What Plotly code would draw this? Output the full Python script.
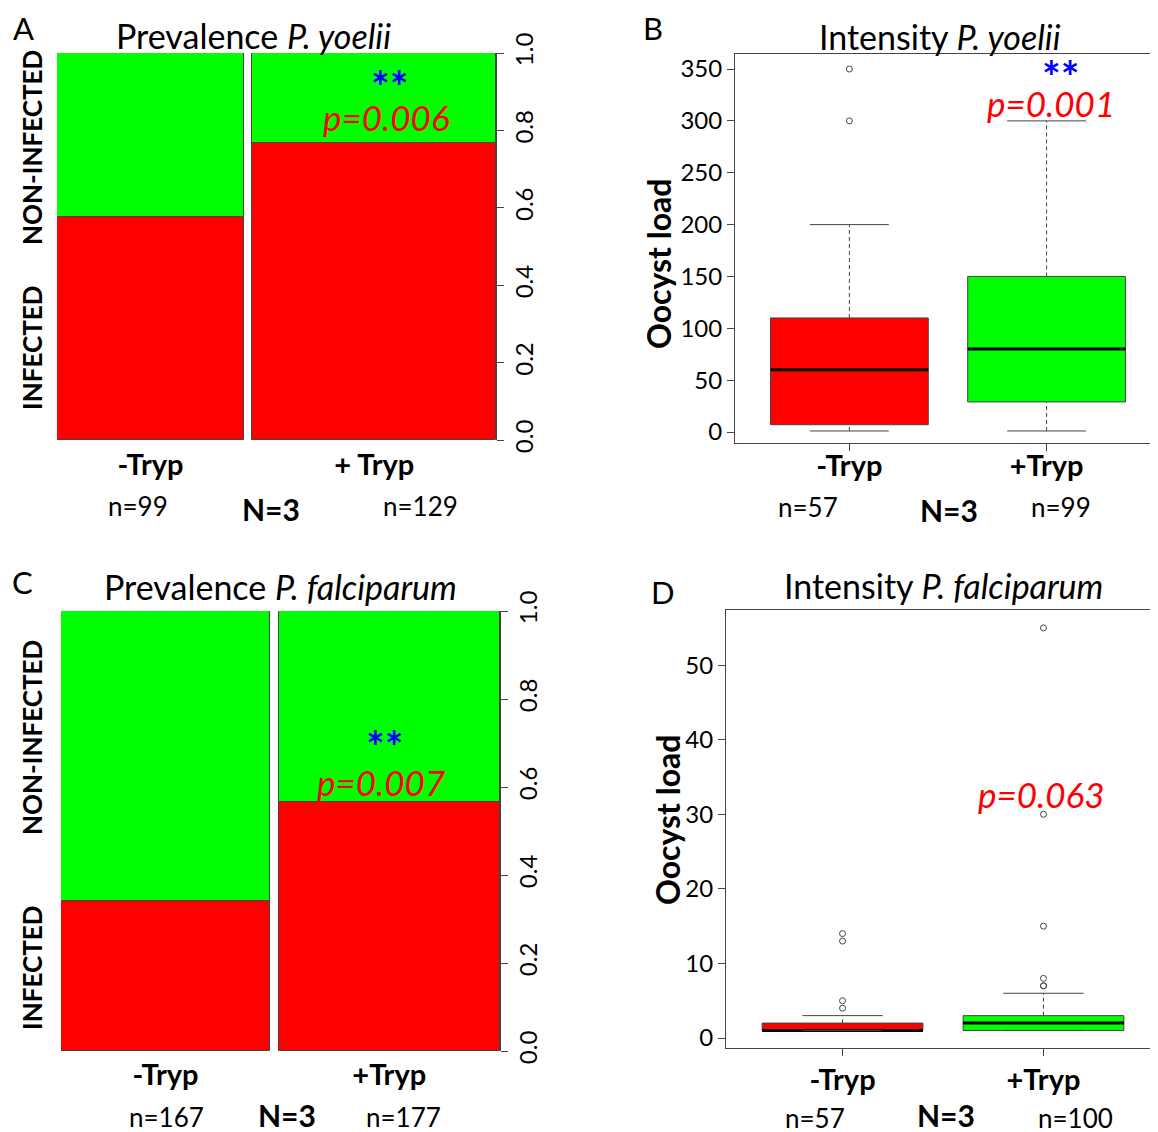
import plotly.graph_objects as go

# the page keeps an 8px body margin, so the figure is drawn 8px in
OFF = 8
W, H = 1158 - OFF, 1132
FONT = "Lato"
RED, GREEN = "#FF0000", "#00FF00"
EDGE = "#444444"

# ---- prevalence (spine plots) ----
prev_labels_a = ["-Tryp", "+ Tryp"]
prev_labels_c = ["-Tryp", "+Tryp"]
yoelii_n = [99, 129]
yoelii_infected = [57, 99]
falc_n = [167, 177]
falc_infected = [57, 100]

# ---- intensity (box plots) ----
box_labels = ["-Tryp", "+Tryp"]
yoelii_lo = [1, 1]
yoelii_q1 = [7, 29]
yoelii_med = [60, 80]
yoelii_q3 = [110, 150]
yoelii_hi = [200, 300]
yoelii_out = [[300, 350], []]
yoelii_count = [57, 99]

falc_lo = [1, 1]
falc_q1 = [1, 1]
falc_med = [1, 2]
falc_q3 = [2, 3]
falc_hi = [3, 6]
falc_out = [[4, 5, 13, 14], [7, 7, 8, 15, 30, 55]]
falc_count = [57, 100]


def px_x(a, b):
    return [(a - OFF) / W, (b - OFF) / W]


def px_y(top, bottom):
    return [1 - (bottom - OFF) / H, 1 - (top - OFF) / H]


fig = go.Figure()


def spine(n, infected, xa, ya, off=0.02):
    total = sum(n)
    widths = [v / total for v in n]
    lefts = [0, widths[0] + off]
    centers = [l + w / 2 for l, w in zip(lefts, widths)]
    frac = [i / v for i, v in zip(infected, n)]
    fig.add_trace(go.Bar(
        x=centers, y=frac, base=[0, 0], width=widths, xaxis=xa, yaxis=ya,
        marker={"color": RED, "line": {"color": EDGE, "width": 1}},
        showlegend=False, hoverinfo="skip",
    ))
    fig.add_trace(go.Bar(
        x=centers, y=[1 - f for f in frac], base=frac, width=widths,
        xaxis=xa, yaxis=ya,
        marker={"color": GREEN, "line": {"color": EDGE, "width": 1}},
        showlegend=False, hoverinfo="skip",
    ))
    return centers, frac, 1 + off


def boxes(lo, q1, med, q3, hi, out, xa, ya):
    colors = [RED, GREEN]
    for i in range(2):
        x = i + 1
        fig.add_trace(go.Box(
            x=[x], q1=[q1[i]], median=[med[i]], q3=[q3[i]],
            lowerfence=[q1[i]], upperfence=[q3[i]], width=0.8,
            whiskerwidth=0, fillcolor=colors[i],
            line={"color": EDGE, "width": 1}, xaxis=xa, yaxis=ya,
            showlegend=False, hoverinfo="skip", boxpoints=False,
        ))
        # median, whiskers (dashed) and staples like base R
        fig.add_trace(go.Scatter(
            x=[x - 0.4, x + 0.4], y=[med[i], med[i]], mode="lines",
            line={"color": "black", "width": 3}, xaxis=xa, yaxis=ya,
            showlegend=False, hoverinfo="skip",
        ))
        for a, b in ((q3[i], hi[i]), (lo[i], q1[i])):
            fig.add_trace(go.Scatter(
                x=[x, x], y=[a, b], mode="lines",
                line={"color": EDGE, "width": 1, "dash": "4px,3px"},
                xaxis=xa, yaxis=ya, showlegend=False, hoverinfo="skip",
            ))
        for v in (lo[i], hi[i]):
            fig.add_trace(go.Scatter(
                x=[x - 0.2, x + 0.2], y=[v, v], mode="lines",
                line={"color": EDGE, "width": 1}, xaxis=xa, yaxis=ya,
                showlegend=False, hoverinfo="skip",
            ))
        if out[i]:
            fig.add_trace(go.Scatter(
                x=[x] * len(out[i]), y=out[i], mode="markers",
                marker={"symbol": "circle-open", "size": 6, "color": EDGE,
                        "line": {"width": 1}},
                xaxis=xa, yaxis=ya, showlegend=False, hoverinfo="skip",
            ))


ca, fa, xmax_a = spine(yoelii_n, yoelii_infected, "x", "y")
cc, fc, xmax_c = spine(falc_n, falc_infected, "x3", "y3")
boxes(yoelii_lo, yoelii_q1, yoelii_med, yoelii_q3, yoelii_hi, yoelii_out, "x2", "y2")
boxes(falc_lo, falc_q1, falc_med, falc_q3, falc_hi, falc_out, "x4", "y4")

tickfont = {"family": FONT, "size": 24, "color": "black"}
catfont = {"family": FONT, "size": 29, "color": "black"}


def spine_axes(centers, xmax, labels, xdom, ydom, ya_name, xa_name, standoff):
    xa = dict(
        domain=xdom, range=[0, xmax], anchor=ya_name, tickvals=centers,
        ticktext=["<b>%s</b>" % s for s in labels], ticks="",
        showgrid=False, zeroline=False, showline=False, automargin=False,
        tickfont=catfont, ticklabelstandoff=standoff,
    )
    ya = dict(
        domain=ydom, range=[0, 1], anchor=xa_name, side="right",
        tickvals=[0, 0.2, 0.4, 0.6, 0.8, 1.0],
        ticktext=["0.0", "0.2", "0.4", "0.6", "0.8", "1.0"],
        tickangle=-90, ticks="outside", ticklen=7, tickcolor=EDGE,
        showline=True, linecolor=EDGE, linewidth=1, automargin=False,
        showgrid=False, zeroline=False, tickfont=tickfont,
    )
    return xa, ya


def box_axes(xdom, ydom, yrange, tickvals, ya_name, xa_name, xrange, standoff):
    xa = dict(
        domain=xdom, range=xrange, anchor=ya_name, tickvals=[1, 2],
        ticktext=["<b>%s</b>" % s for s in box_labels], ticks="outside",
        ticklen=7, tickcolor=EDGE, showline=True, mirror=True,
        linecolor=EDGE, linewidth=1, showgrid=False, zeroline=False,
        tickfont=catfont, ticklabelstandoff=standoff, automargin=False,
    )
    ya = dict(
        domain=ydom, range=yrange, anchor=xa_name, tickvals=tickvals,
        ticks="outside", ticklen=7, tickcolor=EDGE, showline=True,
        linecolor=EDGE, linewidth=1, showgrid=False, zeroline=False,
        tickfont={"family": FONT, "size": 24, "color": "black"},
        automargin=False,
    )
    return xa, ya


xa1, ya1 = spine_axes(ca, xmax_a, prev_labels_a, px_x(57, 496), px_y(53, 440),
                      "y", "x", 5)
xa3, ya3 = spine_axes(cc, xmax_c, prev_labels_c, px_x(61, 500), px_y(611, 1051),
                      "y3", "x3", 4)
xa2, ya2 = box_axes(px_x(735, 1158), px_y(54, 443), [-10.6, 364.5],
                    list(range(0, 351, 50)), "y2", "x2", [0.42, 2.565], -10)
xa4, ya4 = box_axes(px_x(726, 1158), px_y(610, 1048), [-1.34, 57.4],
                    list(range(0, 51, 10)), "y4", "x4", [0.42, 2.57], -1)

ann = []


def text(x, y, s, size=24, color="black", angle=0, bold=False, italic=False):
    if bold:
        s = "<b>%s</b>" % s
    if italic:
        s = "<i>%s</i>" % s
    ann.append(dict(
        x=(x - OFF) / W, y=1 - (y - OFF) / H, xref="paper", yref="paper",
        text=s, showarrow=False, textangle=angle, xanchor="center",
        yanchor="middle",
        font={"family": FONT, "size": size, "color": color},
    ))


# panel A
text(23, 28, "A", 31)
text(253, 36, "Prevalence <i>P. yoelii</i>", 34)
text(32, 148, "NON-INFECTED", 26, angle=-90, bold=True)
text(32, 348, "INFECTED", 26, angle=-90, bold=True)
text(138, 506, "n=%d" % yoelii_n[0], 26)
text(271, 509, "N=3", 30, bold=True)
text(420, 506, "n=%d" % yoelii_n[1], 26)
text(389, 86, "**", 44, color="#0000FF", bold=True)
text(386, 117, "p=0.006", 35, color=RED, italic=True)

# panel B
text(653, 28, "B", 31)
text(940, 37, "Intensity <i>P. yoelii</i>", 34)
text(658, 264, "Oocyst load", 32, angle=-90, bold=True)
text(808, 507, "n=%d" % yoelii_count[0], 26)
text(949, 510, "N=3", 30, bold=True)
text(1061, 507, "n=%d" % yoelii_count[1], 26)
text(1060, 76, "**", 44, color="#0000FF", bold=True)
text(1051, 103, "p=0.001", 35, color=RED, italic=True)

# panel C
text(22, 582, "C", 31)
text(280, 586, "Prevalence <i>P. falciparum</i>", 34)
text(32, 738, "NON-INFECTED", 26, angle=-90, bold=True)
text(32, 968, "INFECTED", 26, angle=-90, bold=True)
text(166, 1117, "n=%d" % falc_n[0], 26)
text(287, 1115, "N=3", 30, bold=True)
text(403, 1117, "n=%d" % falc_n[1], 26)
text(385, 746, "**", 44, color="#0000FF", bold=True)
text(381, 782, "p=0.007", 35, color=RED, italic=True)

# panel D
text(663, 592, "D", 31)
text(943, 585, "Intensity <i>P. falciparum</i>", 34)
text(667, 820, "Oocyst load", 32, angle=-90, bold=True)
text(815, 1118, "n=%d" % falc_count[0], 26)
text(946, 1115, "N=3", 30, bold=True)
text(1075, 1118, "n=%d" % falc_count[1], 26)
text(1041, 794, "p=0.063", 35, color=RED, italic=True)

fig.update_layout(
    width=W, height=H, margin={"l": 0, "r": 0, "t": 0, "b": 0, "pad": 0},
    paper_bgcolor="white", plot_bgcolor="white", barmode="overlay",
    bargap=0, font={"family": FONT, "color": "black"},
    xaxis=xa1, yaxis=ya1, xaxis2=xa2, yaxis2=ya2,
    xaxis3=xa3, yaxis3=ya3, xaxis4=xa4, yaxis4=ya4,
    annotations=ann,
)

fig.write_html("out.html")
